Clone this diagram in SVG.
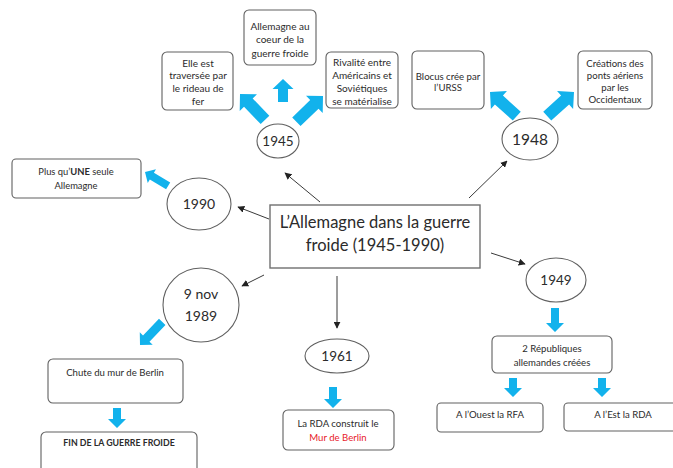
<svg xmlns="http://www.w3.org/2000/svg" width="673" height="468" viewBox="0 0 673 468">
<defs>
<style>
.bg{fill:#ffffff}
.box rect{fill:#fff;stroke:#606060;stroke-width:1.1}
.node ellipse{fill:#fff;stroke:#606060;stroke-width:1.1}
.center rect{fill:#fff;stroke:#707070;stroke-width:1.4}
text{font-family:Lato,"Liberation Sans",sans-serif;fill:#2b2b2b;text-anchor:middle}
.t10{font-size:10px}
.t8{font-size:9.6px}
.t75{font-size:9.4px}
.yr{font-size:13.5px}
.ct{font-size:16.5px}
.blk{fill:#12b2ec}
.con line{stroke:#3a3a3a;stroke-width:1;marker-end:url(#ah)}
.red{fill:#e8202a}
.b{font-weight:bold}
</style>
<marker id="ah" viewBox="0 0 10 10" refX="9" refY="5" markerWidth="7" markerHeight="7" markerUnits="userSpaceOnUse" orient="auto">
<path d="M0,0 L10,5 L0,10 Z" fill="#222"/>
</marker>
</defs>
<rect class="bg" x="0" y="0" width="673" height="468"/>

<g id="connectors" class="con">
<line x1="320" y1="202" x2="285" y2="173"/>
<line x1="469" y1="198" x2="507" y2="161"/>
<line x1="269" y1="219" x2="238" y2="207"/>
<line x1="264" y1="275" x2="242" y2="286"/>
<line x1="337" y1="276" x2="337" y2="328"/>
<line x1="491" y1="253" x2="525" y2="264"/>
</g>

<g id="blue-arrows">
<path class="blk" d="M0,0 L12,12 L6,12 L6,36 L-6,36 L-6,12 L-12,12 Z" transform="translate(240,94) rotate(-44)"/>
<path class="blk" d="M0,0 L10.5,10 L5,10 L5,23 L-5,23 L-5,10 L-10.5,10 Z" transform="translate(283,79)"/>
<path class="blk" d="M0,0 L12,12 L6,12 L6,37 L-6,37 L-6,12 L-12,12 Z" transform="translate(323,96) rotate(46)"/>
<path class="blk" d="M0,0 L12,12 L6,12 L6,36 L-6,36 L-6,12 L-12,12 Z" transform="translate(490,92) rotate(-48)"/>
<path class="blk" d="M0,0 L12,12 L6,12 L6,36 L-6,36 L-6,12 L-12,12 Z" transform="translate(574,92) rotate(48)"/>
<path class="blk" d="M0,0 L8,8 L4,8 L4,27 L-4,27 L-4,8 L-8,8 Z" transform="translate(145,172) rotate(-59)"/>
<path class="blk" d="M0,0 L9,9 L4.5,9 L4.5,32 L-4.5,32 L-4.5,9 L-9,9 Z" transform="translate(140,345) rotate(-136)"/>
<path class="blk" d="M0,0 L9,9 L4,9 L4,20 L-4,20 L-4,9 L-9,9 Z" transform="translate(117,428) rotate(180)"/>
<path class="blk" d="M0,0 L9,9 L4,9 L4,21 L-4,21 L-4,9 L-9,9 Z" transform="translate(333,408) rotate(180)"/>
<path class="blk" d="M0,0 L9,9 L4,9 L4,24 L-4,24 L-4,9 L-9,9 Z" transform="translate(555,332) rotate(180)"/>
<path class="blk" d="M0,0 L9,9 L4,9 L4,19 L-4,19 L-4,9 L-9,9 Z" transform="translate(513,397) rotate(180)"/>
<path class="blk" d="M0,0 L9,9 L4,9 L4,19 L-4,19 L-4,9 L-9,9 Z" transform="translate(602,397) rotate(180)"/>
</g>

<g id="center" class="center">
<rect x="270" y="205" width="210" height="63"/>
<text class="ct" x="375" y="228">L’Allemagne dans la guerre</text>
<text class="ct" x="375" y="251">froide (1945-1990)</text>
</g>

<g id="y1945" class="node"><ellipse cx="278" cy="141" rx="21" ry="17"/><text class="yr" x="278" y="146">1945</text></g>
<g id="y1948" class="node"><ellipse cx="530" cy="139" rx="28" ry="21"/><text x="530" y="145" style="font-size:15.5px">1948</text></g>
<g id="y1990" class="node"><ellipse cx="199" cy="204" rx="32" ry="26"/><text x="199" y="209" style="font-size:14px">1990</text></g>
<g id="y1989" class="node"><ellipse cx="201" cy="305" rx="38" ry="37"/><text x="201" y="299" style="font-size:14px">9 nov</text><text x="201" y="321" style="font-size:14px">1989</text></g>
<g id="y1961" class="node"><ellipse cx="337" cy="356" rx="32" ry="17"/><text class="yr" x="337" y="361">1961</text></g>
<g id="y1949" class="node"><ellipse cx="556" cy="280" rx="30" ry="22"/><text class="yr" x="556" y="285">1949</text></g>

<g id="rideau" class="box"><rect x="162" y="52" width="71" height="58" rx="5"/>
<text class="t10" x="198" y="67">Elle est</text><text class="t10" x="198" y="79">traversée par</text><text class="t10" x="198" y="92">le rideau de</text><text class="t10" x="198" y="105">fer</text></g>
<g id="coeur" class="box"><rect x="244" y="10" width="72" height="55" rx="5"/>
<text class="t10" x="280" y="30">Allemagne au</text><text class="t10" x="280" y="43">coeur de la</text><text class="t10" x="280" y="57">guerre froide</text></g>
<g id="rivalite" class="box"><rect x="326" y="52" width="72" height="56" rx="5"/>
<text class="t10" x="362" y="66">Rivalité entre</text><text class="t10" x="362" y="79">Américains et</text><text class="t10" x="362" y="92">Soviétiques</text><text class="t10" x="362" y="105">se matérialise</text></g>
<g id="blocus" class="box"><rect x="412" y="51" width="72" height="58" rx="5"/>
<text class="t8" x="448" y="80">Blocus crée par</text><text class="t8" x="448" y="91">l’URSS</text></g>
<g id="ponts" class="box"><rect x="578" y="51" width="74" height="58" rx="5"/>
<text class="t8" x="615" y="67">Créations des</text><text class="t8" x="615" y="79">ponts aériens</text><text class="t8" x="615" y="91">par les</text><text class="t8" x="615" y="103">Occidentaux</text></g>
<g id="une" class="box"><rect x="12" y="159" width="129" height="39" rx="4"/>
<text class="t75" x="76" y="175">Plus qu’<tspan class="b">UNE</tspan> seule</text><text class="t75" x="76" y="189">Allemagne</text></g>
<g id="chute" class="box"><rect x="48" y="359" width="135" height="44" rx="5"/>
<text class="t8" x="115" y="376">Chute du mur de Berlin</text></g>
<g id="fin" class="box"><rect x="41" y="432" width="156" height="50" rx="5"/>
<text class="b" x="119" y="446" style="font-size:8.8px">FIN DE LA GUERRE FROIDE</text></g>
<g id="mur" class="box"><rect x="283" y="410" width="111" height="40" rx="5"/>
<text class="t8" x="338" y="427">La RDA construit le</text><text class="t8 red" x="338" y="441">Mur de Berlin</text></g>
<g id="republiques" class="box"><rect x="492" y="336" width="120" height="37" rx="5"/>
<text class="t8" x="552" y="352">2 Républiques</text><text class="t8" x="552" y="366">allemandes créées</text></g>
<g id="rfa" class="box"><rect x="437" y="403" width="106" height="29" rx="4"/>
<text class="t8" x="490" y="418">A l’Ouest la RFA</text></g>
<g id="rda" class="box"><rect x="564" y="403" width="115" height="28" rx="4"/>
<text class="t8" x="623" y="418">A l’Est la RDA</text></g>
</svg>
